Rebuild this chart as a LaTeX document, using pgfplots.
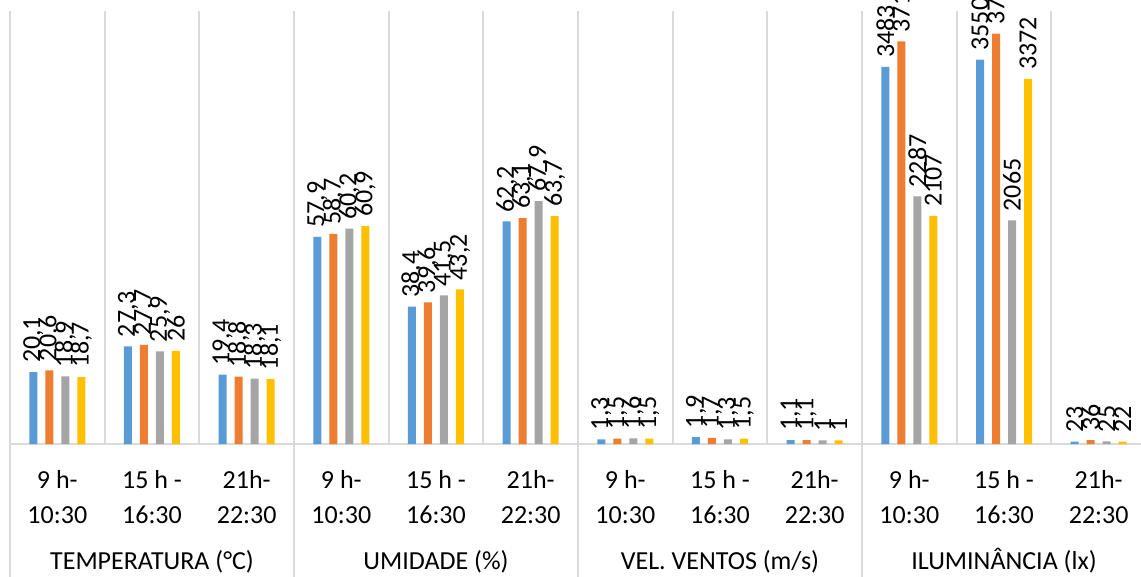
\documentclass[border=0pt]{standalone}
\usepackage{pgfplots}
\pgfplotsset{compat=1.18}
\usepackage{fontspec}
\setmainfont{Carlito}
\definecolor{cblue}{HTML}{5B9BD5}
\definecolor{corange}{HTML}{ED7D31}
\definecolor{cgray}{HTML}{A5A5A5}
\definecolor{cyellow}{HTML}{FFC000}
\definecolor{gridc}{HTML}{D9D9D9}
\newcommand\lbl{\fontsize{26}{30}\selectfont}
\pgfplotsset{common/.style={
  at={(0,0)}, anchor=south west, width=1136pt, height=433pt, scale only axis,
  xmin=0, xmax=12, ymin=0, ybar=8pt, bar width=8pt, clip=false,
  nodes near coords,
  every node near coord/.append style={rotate=90, anchor=west, font=\lbl, inner xsep=9pt, text=black},
  /pgf/number format/fixed, /pgf/number format/precision=1,
  /pgf/number format/use comma, /pgf/number format/1000 sep={},
  /pgf/number format/assume math mode=true,
}}
\begin{document}
\begin{tikzpicture}
\useasboundingbox (-10pt,-132pt) rectangle (1131pt,444pt);
\clip (-10pt,-132pt) rectangle (1131pt,444pt);
\begin{axis}[common, ymax=121,
  hide y axis, axis x line*=bottom,
  x axis line style={draw=gridc, line width=2pt, -},
  xtick={0,...,12}, xticklabels={}, major tick length=0pt,
  xmajorgrids, major grid style={draw=gridc, line width=2pt}]
\addplot[fill=cblue, draw=none] coordinates {(0.5,20.1) (1.5,27.3) (2.5,19.4) (3.5,57.9) (4.5,38.4) (5.5,62.2) (6.5,1.3) (7.5,1.9) (8.5,1.1)};
\addplot[fill=corange, draw=none] coordinates {(0.5,20.6) (1.5,27.7) (2.5,18.8) (3.5,58.7) (4.5,39.6) (5.5,63.1) (6.5,1.5) (7.5,1.7) (8.5,1.1)};
\addplot[fill=cgray, draw=none] coordinates {(0.5,18.9) (1.5,25.9) (2.5,18.3) (3.5,60.2) (4.5,41.5) (5.5,67.9) (6.5,1.6) (7.5,1.3) (8.5,1)};
\addplot[fill=cyellow, draw=none] coordinates {(0.5,18.7) (1.5,26) (2.5,18.1) (3.5,60.9) (4.5,43.2) (5.5,63.7) (6.5,1.5) (7.5,1.5) (8.5,1)};
\pgfplotsinvokeforeach{0,3,6,9,12}{
  \draw[gridc, line width=2pt] (axis cs:#1,0) -- ++(0pt,-140pt);
}
\pgfplotsinvokeforeach{0,3,6,9}{
  \node[anchor=base, font=\lbl, inner sep=0pt, yshift=-44pt] at (axis cs:#1+0.5,0) {9 h-};
  \node[anchor=base, font=\lbl, inner sep=0pt, yshift=-79pt] at (axis cs:#1+0.5,0) {10:30};
  \node[anchor=base, font=\lbl, inner sep=0pt, yshift=-44pt] at (axis cs:#1+1.5,0) {15 h -};
  \node[anchor=base, font=\lbl, inner sep=0pt, yshift=-79pt] at (axis cs:#1+1.5,0) {16:30};
  \node[anchor=base, font=\lbl, inner sep=0pt, yshift=-44pt] at (axis cs:#1+2.5,0) {21h-};
  \node[anchor=base, font=\lbl, inner sep=0pt, yshift=-79pt] at (axis cs:#1+2.5,0) {22:30};
}
\node[anchor=base, font=\lbl, inner sep=0pt, yshift=-125pt] at (axis cs:1.5,0) {TEMPERATURA (°C)};
\node[anchor=base, font=\lbl, inner sep=0pt, yshift=-125pt] at (axis cs:4.5,0) {UMIDADE (\%)};
\node[anchor=base, font=\lbl, inner sep=0pt, yshift=-125pt] at (axis cs:7.5,0) {VEL. VENTOS (m/s)};
\node[anchor=base, font=\lbl, inner sep=0pt, yshift=-125pt] at (axis cs:10.5,0) {ILUMINÂNCIA (lx)};
\end{axis}
\begin{axis}[common, ymax=4000, hide axis]
\addplot[fill=cblue, draw=none] coordinates {(9.5,3483) (10.5,3550) (11.5,23)};
\addplot[fill=corange, draw=none] coordinates {(9.5,3719) (10.5,3792) (11.5,36)};
\addplot[fill=cgray, draw=none] coordinates {(9.5,2287) (10.5,2065) (11.5,25)};
\addplot[fill=cyellow, draw=none] coordinates {(9.5,2107) (10.5,3372) (11.5,22)};
\end{axis}
\end{tikzpicture}
\end{document}
